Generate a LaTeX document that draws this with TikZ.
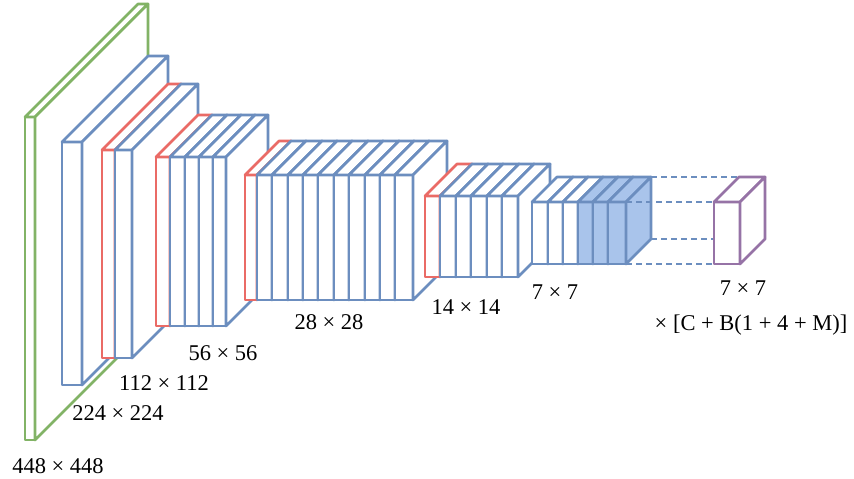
\documentclass[tikz,border=0pt]{standalone}
\usepackage{fontspec}
\setmainfont{Liberation Serif}
\definecolor{cgreen}{HTML}{82B366}
\definecolor{cblue}{HTML}{6C8EBF}
\definecolor{cred}{HTML}{EA6B66}
\definecolor{cpurple}{HTML}{9673A6}
\definecolor{cfill}{HTML}{A9C4EB}
\newcommand\cnnslab[7]{%
  \filldraw[slabline,draw=#6,fill=#7] (#1,#3) rectangle (#2,#4);
  \filldraw[slabline,draw=#6,fill=#7] (#1,#3) -- ({#1+#5},{#3-#5}) -- ({#2+#5},{#3-#5}) -- (#2,#3) -- cycle;
  \filldraw[slabline,draw=#6,fill=#7] (#2,#3) -- ({#2+#5},{#3-#5}) -- ({#2+#5},{#4-#5}) -- (#2,#4) -- cycle;
}
\begin{document}
\begin{tikzpicture}[x=1pt,y=-1pt,
  slabline/.style={line width=2.7pt,line join=round},
  dashconn/.style={draw=cblue,line width=1.2pt,dash pattern=on 6pt off 4pt},
  lbl/.style={font=\fontsize{22.5}{26}\selectfont,inner sep=0pt}]
\useasboundingbox[fill=white] (0,0) rectangle (854,479);
% 448
\cnnslab{25}{35}{117}{440}{113}{cgreen}{white}
% 224
\cnnslab{62}{82}{142}{385}{86}{cblue}{white}
% 112
\cnnslab{102}{115}{150}{358}{66}{cred}{white}
\cnnslab{115}{132}{150}{358}{66}{cblue}{white}
% 56
\cnnslab{156}{170}{157}{326}{42}{cred}{white}
\foreach \a/\b in {170/185,185/199,199/213,213/226}
  {\cnnslab{\a}{\b}{157}{326}{42}{cblue}{white}}
% 28
\cnnslab{245}{257}{175}{300}{34}{cred}{white}
\foreach \a/\b in {257/272,272/288,288/303,303/318,318/334,334/349,349/365,365/380,380/395,395/413}
  {\cnnslab{\a}{\b}{175}{300}{34}{cblue}{white}}
% 14
\cnnslab{425}{440}{196}{277}{32}{cred}{white}
\foreach \a/\b in {440/456,456/471,471/487,487/502,502/518}
  {\cnnslab{\a}{\b}{196}{277}{32}{cblue}{white}}
% 7
\foreach \a/\b in {532/548,548/563,563/578}
  {\cnnslab{\a}{\b}{202}{264}{25}{cblue}{white}}
\foreach \a/\b in {578/593,593/608,608/626}
  {\cnnslab{\a}{\b}{202}{264}{25}{cblue}{cfill}}
% corners for dashed connectors
\coordinate (sbtr) at (651,177);
\coordinate (sftr) at (626,202);
\coordinate (sbbr) at (651,239);
\coordinate (sfbr) at (626,264);
\coordinate (pbtl) at (739,177);
\coordinate (pftl) at (714,202);
\coordinate (pbbl) at (739,239);
\coordinate (pfbl) at (714,264);
\draw[dashconn] (sbtr) -- (pbtl);
\draw[dashconn] (sftr) -- (pftl);
\draw[dashconn] (sbbr) -- (pbbl);
\draw[dashconn] (sfbr) -- (pfbl);
% output
\cnnslab{714}{740}{202}{264}{25}{cpurple}{white}
% labels
\node[lbl] (l448) at (58,466) {448 × 448};
\node[lbl] (l224) at (118,413) {224 × 224};
\node[lbl] (l112) at (164,383) {112 × 112};
\node[lbl] (l56) at (223,353) {56 × 56};
\node[lbl] (l28) at (329,322) {28 × 28};
\node[lbl] (l14) at (466,307) {14 × 14};
\node[lbl] (l7a) at (555,292) {7 × 7};
\node[lbl] (l7b) at (743,288) {7 × 7};
\node[lbl] (lout) at (751,325) {× [C + B(1 + 4 + M)]};
\end{tikzpicture}
\end{document}
